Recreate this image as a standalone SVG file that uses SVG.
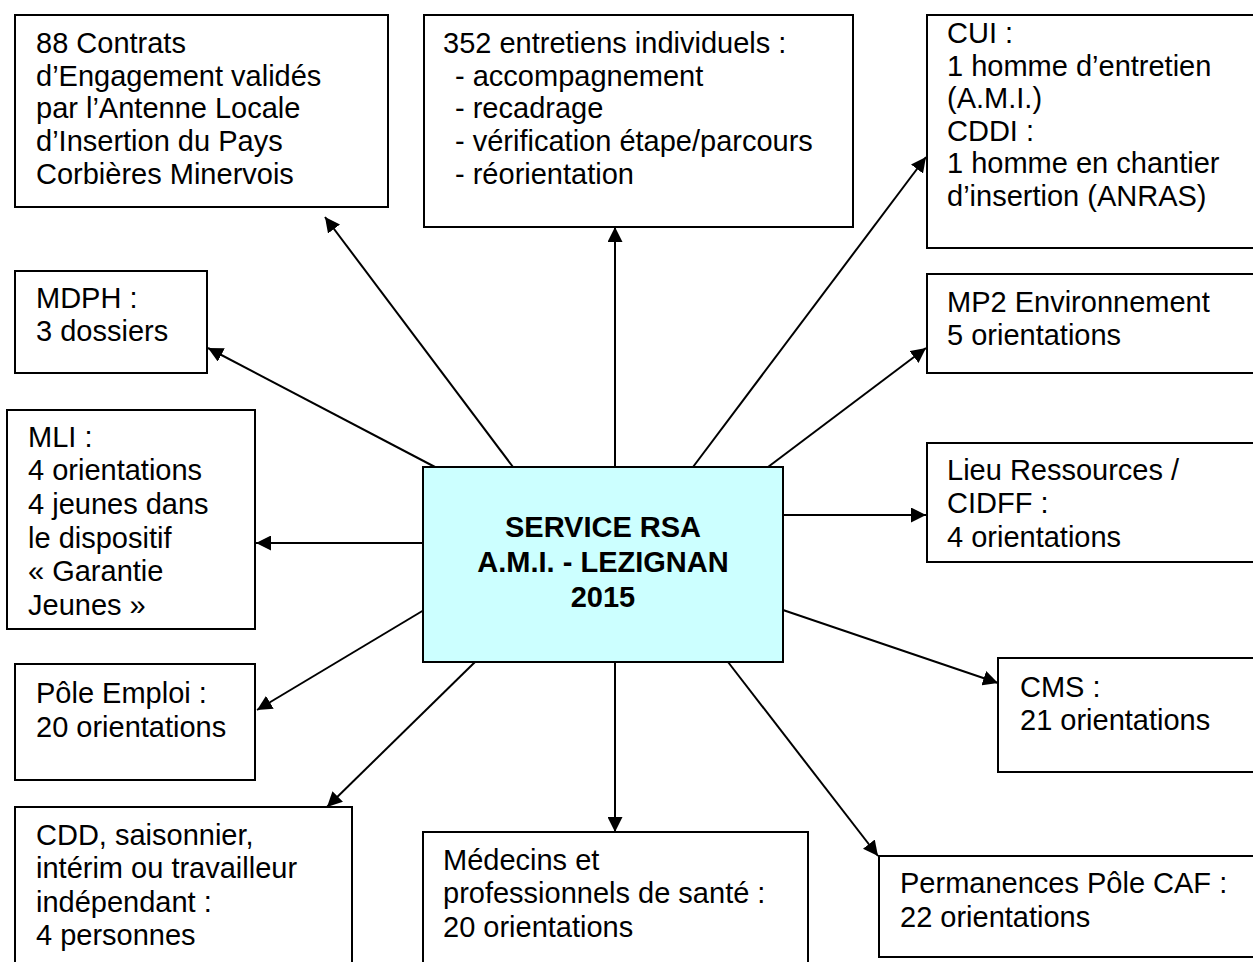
<svg xmlns="http://www.w3.org/2000/svg" width="1253" height="962" viewBox="0 0 1253 962">
<defs>
<style>
.box{fill:#fff;stroke:#000;stroke-width:2}
.ctr{fill:#CCFFFF;stroke:#000;stroke-width:2}
.t{font-family:"Liberation Sans",Arial,sans-serif;font-size:29px;fill:#000}
.tb{font-family:"Liberation Sans",Arial,sans-serif;font-size:29px;font-weight:bold;fill:#000;text-anchor:middle}
.c{stroke:#000;stroke-width:2;fill:none;marker-end:url(#ah)}
</style>
<marker id="ah" markerUnits="userSpaceOnUse" markerWidth="15" markerHeight="15" refX="15" refY="7.5" orient="auto">
<path d="M0,0 L15,7.5 L0,15 z" fill="#000"/>
</marker>
</defs>
<rect width="1253" height="962" fill="#fff"/>
<g id="connectors">
<line class="c" x1="513" y1="467" x2="325" y2="217"/>
<line class="c" x1="615" y1="467" x2="615" y2="227"/>
<line class="c" x1="693" y1="467" x2="926" y2="157"/>
<line class="c" x1="768" y1="467" x2="926" y2="348"/>
<line class="c" x1="783" y1="515" x2="926" y2="515"/>
<line class="c" x1="783" y1="610" x2="998" y2="683"/>
<line class="c" x1="728" y1="662" x2="878" y2="856"/>
<line class="c" x1="615" y1="662" x2="615" y2="832"/>
<line class="c" x1="475" y1="662" x2="327" y2="807"/>
<line class="c" x1="424" y1="610" x2="257" y2="710"/>
<line class="c" x1="423" y1="543" x2="256" y2="543"/>
<line class="c" x1="435" y1="467" x2="208" y2="348"/>
</g>
<g id="center">
<rect class="ctr" x="423" y="467" width="360" height="195"/>
<text class="tb" x="603" y="537">SERVICE RSA</text>
<text class="tb" x="603" y="572">A.M.I. - LEZIGNAN</text>
<text class="tb" x="603" y="607">2015</text>
</g>
<g id="contrats">
<rect class="box" x="15" y="15" width="373" height="192"/>
<text class="t" x="36" y="53">88 Contrats</text>
<text class="t" x="36" y="86">d’Engagement validés</text>
<text class="t" x="36" y="118">par l’Antenne Locale</text>
<text class="t" x="36" y="151">d’Insertion du Pays</text>
<text class="t" x="36" y="184">Corbières Minervois</text>
</g>
<g id="entretiens">
<rect class="box" x="424" y="15" width="429" height="212"/>
<text class="t" x="443" y="53">352 entretiens individuels :</text>
<text class="t" x="455" y="86">- accompagnement</text>
<text class="t" x="455" y="118">- recadrage</text>
<text class="t" x="455" y="151">- vérification étape/parcours</text>
<text class="t" x="455" y="184">- réorientation</text>
</g>
<g id="cui">
<rect class="box" x="927" y="15" width="340" height="233"/>
<text class="t" x="947" y="43">CUI :</text>
<text class="t" x="947" y="76">1 homme d’entretien</text>
<text class="t" x="947" y="108">(A.M.I.)</text>
<text class="t" x="947" y="141">CDDI :</text>
<text class="t" x="947" y="173">1 homme en chantier</text>
<text class="t" x="947" y="206">d’insertion (ANRAS)</text>
</g>
<g id="mdph">
<rect class="box" x="15" y="271" width="192" height="102"/>
<text class="t" x="36" y="308">MDPH :</text>
<text class="t" x="36" y="341">3 dossiers</text>
</g>
<g id="mli">
<rect class="box" x="7" y="410" width="248" height="219"/>
<text class="t" x="28" y="447">MLI :</text>
<text class="t" x="28" y="480">4 orientations</text>
<text class="t" x="28" y="514">4 jeunes dans</text>
<text class="t" x="28" y="548">le dispositif</text>
<text class="t" x="28" y="581">« Garantie</text>
<text class="t" x="28" y="615">Jeunes »</text>
</g>
<g id="mp2">
<rect class="box" x="927" y="274" width="340" height="99"/>
<text class="t" x="947" y="312">MP2 Environnement</text>
<text class="t" x="947" y="345">5 orientations</text>
</g>
<g id="lieu">
<rect class="box" x="927" y="443" width="340" height="119"/>
<text class="t" x="947" y="480">Lieu Ressources /</text>
<text class="t" x="947" y="513">CIDFF :</text>
<text class="t" x="947" y="547">4 orientations</text>
</g>
<g id="cms">
<rect class="box" x="998" y="658" width="270" height="114"/>
<text class="t" x="1020" y="697">CMS :</text>
<text class="t" x="1020" y="730">21 orientations</text>
</g>
<g id="pole">
<rect class="box" x="15" y="664" width="240" height="116"/>
<text class="t" x="36" y="703">Pôle Emploi :</text>
<text class="t" x="36" y="737">20 orientations</text>
</g>
<g id="cdd">
<rect class="box" x="15" y="807" width="337" height="175"/>
<text class="t" x="36" y="845">CDD, saisonnier,</text>
<text class="t" x="36" y="878">intérim ou travailleur</text>
<text class="t" x="36" y="912">indépendant :</text>
<text class="t" x="36" y="945">4 personnes</text>
</g>
<g id="medecins">
<rect class="box" x="423" y="832" width="385" height="150"/>
<text class="t" x="443" y="870">Médecins et</text>
<text class="t" x="443" y="903">professionnels de santé :</text>
<text class="t" x="443" y="937">20 orientations</text>
</g>
<g id="caf">
<rect class="box" x="879" y="856" width="390" height="101"/>
<text class="t" x="900" y="893">Permanences Pôle CAF :</text>
<text class="t" x="900" y="927">22 orientations</text>
</g>
</svg>
